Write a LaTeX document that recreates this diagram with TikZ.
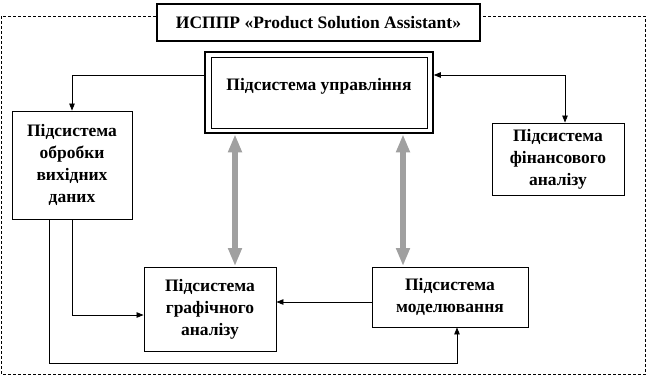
\documentclass[tikz,border=0pt]{standalone}
\usepackage{fontspec}
\setmainfont{Liberation Serif}
\usetikzlibrary{arrows.meta}
\tikzset{
  box/.style={draw, line width=0.9pt, fill=white, inner sep=0pt, align=center,
    font=\bfseries\fontsize{17.5}{22}\selectfont},
  txt/.style={inner sep=0pt, align=center, font=\bfseries\fontsize{17.5}{22}\selectfont},
  arr/.style={line width=0.8pt, -{Triangle[length=7pt,width=5.5pt]}},
  darr/.style={line width=0.8pt, {Triangle[length=7pt,width=5.5pt]}-{Triangle[length=7pt,width=5.5pt]}},
  garr/.style={line width=6pt, draw={rgb,255:red,160;green,160;blue,160},
    {Triangle[length=18pt,width=13pt]}-{Triangle[length=18pt,width=13pt]}, shorten <=0.5pt, shorten >=0.5pt},
}
\begin{document}
\begin{tikzpicture}[x=1pt,y=-1pt]
\useasboundingbox (0,0) rectangle (650,376);
% outer dashed frame
\draw[line width=0.8pt, dash pattern=on 3pt off 2pt] (1.5,16) rectangle (645,374.5);
% title
\node[box, line width=1.8pt, minimum width=323pt, minimum height=37pt] (title) at (318.5,22.5)
  {ИСППР «Product Solution Assistant»};
% control subsystem (double frame)
\node[draw, line width=1.6pt, fill=white, minimum width=228pt, minimum height=81pt, inner sep=0pt] (ctrl) at (319,92.5) {};
\node[draw, line width=0.8pt, minimum width=216pt, minimum height=71pt, inner sep=0pt] (ctrlin) at (ctrl.center) {};
\node[txt] (ctrltxt) at (319,86) {Підсистема управління};
% other subsystems
\node[box, minimum width=120pt, minimum height=108pt] (left) at (72,165)
  {Підсистема\\обробки\\вихідних\\даних};
\node[box, minimum width=132pt, minimum height=72pt] (fin) at (558,159)
  {Підсистема\\фінансового\\аналізу};
\node[box, minimum width=132pt, minimum height=84pt] (graph) at (210,309)
  {Підсистема\\графічного\\аналізу};
\node[box, minimum width=156pt, minimum height=60pt] (model) at (450,297)
  {Підсистема\\моделювання};
% connectors
\draw[arr] ([yshift=17.5pt]ctrl.west) -| (left.north);
\draw[darr] ([yshift=17.5pt]ctrl.east) -| ([xshift=7pt]fin.north);
\draw[arr] (left.south) |- ([yshift=-6pt]graph.west);
\coordinate (bend) at (457,363);
\draw[arr] ([xshift=-23pt]left.south) |- (bend) -- ([xshift=7pt]model.south);
\draw[arr] ([yshift=-5pt]model.west) -- ([yshift=-5pt]model.west -| graph.east);
% grey two-way arrows
\draw[garr] ([xshift=-84pt]ctrl.south) -- ([xshift=-84pt]ctrl.south |- graph.north);
\draw[garr] ([xshift=84pt]ctrl.south) -- ([xshift=84pt]ctrl.south |- model.north);
\end{tikzpicture}
\end{document}
